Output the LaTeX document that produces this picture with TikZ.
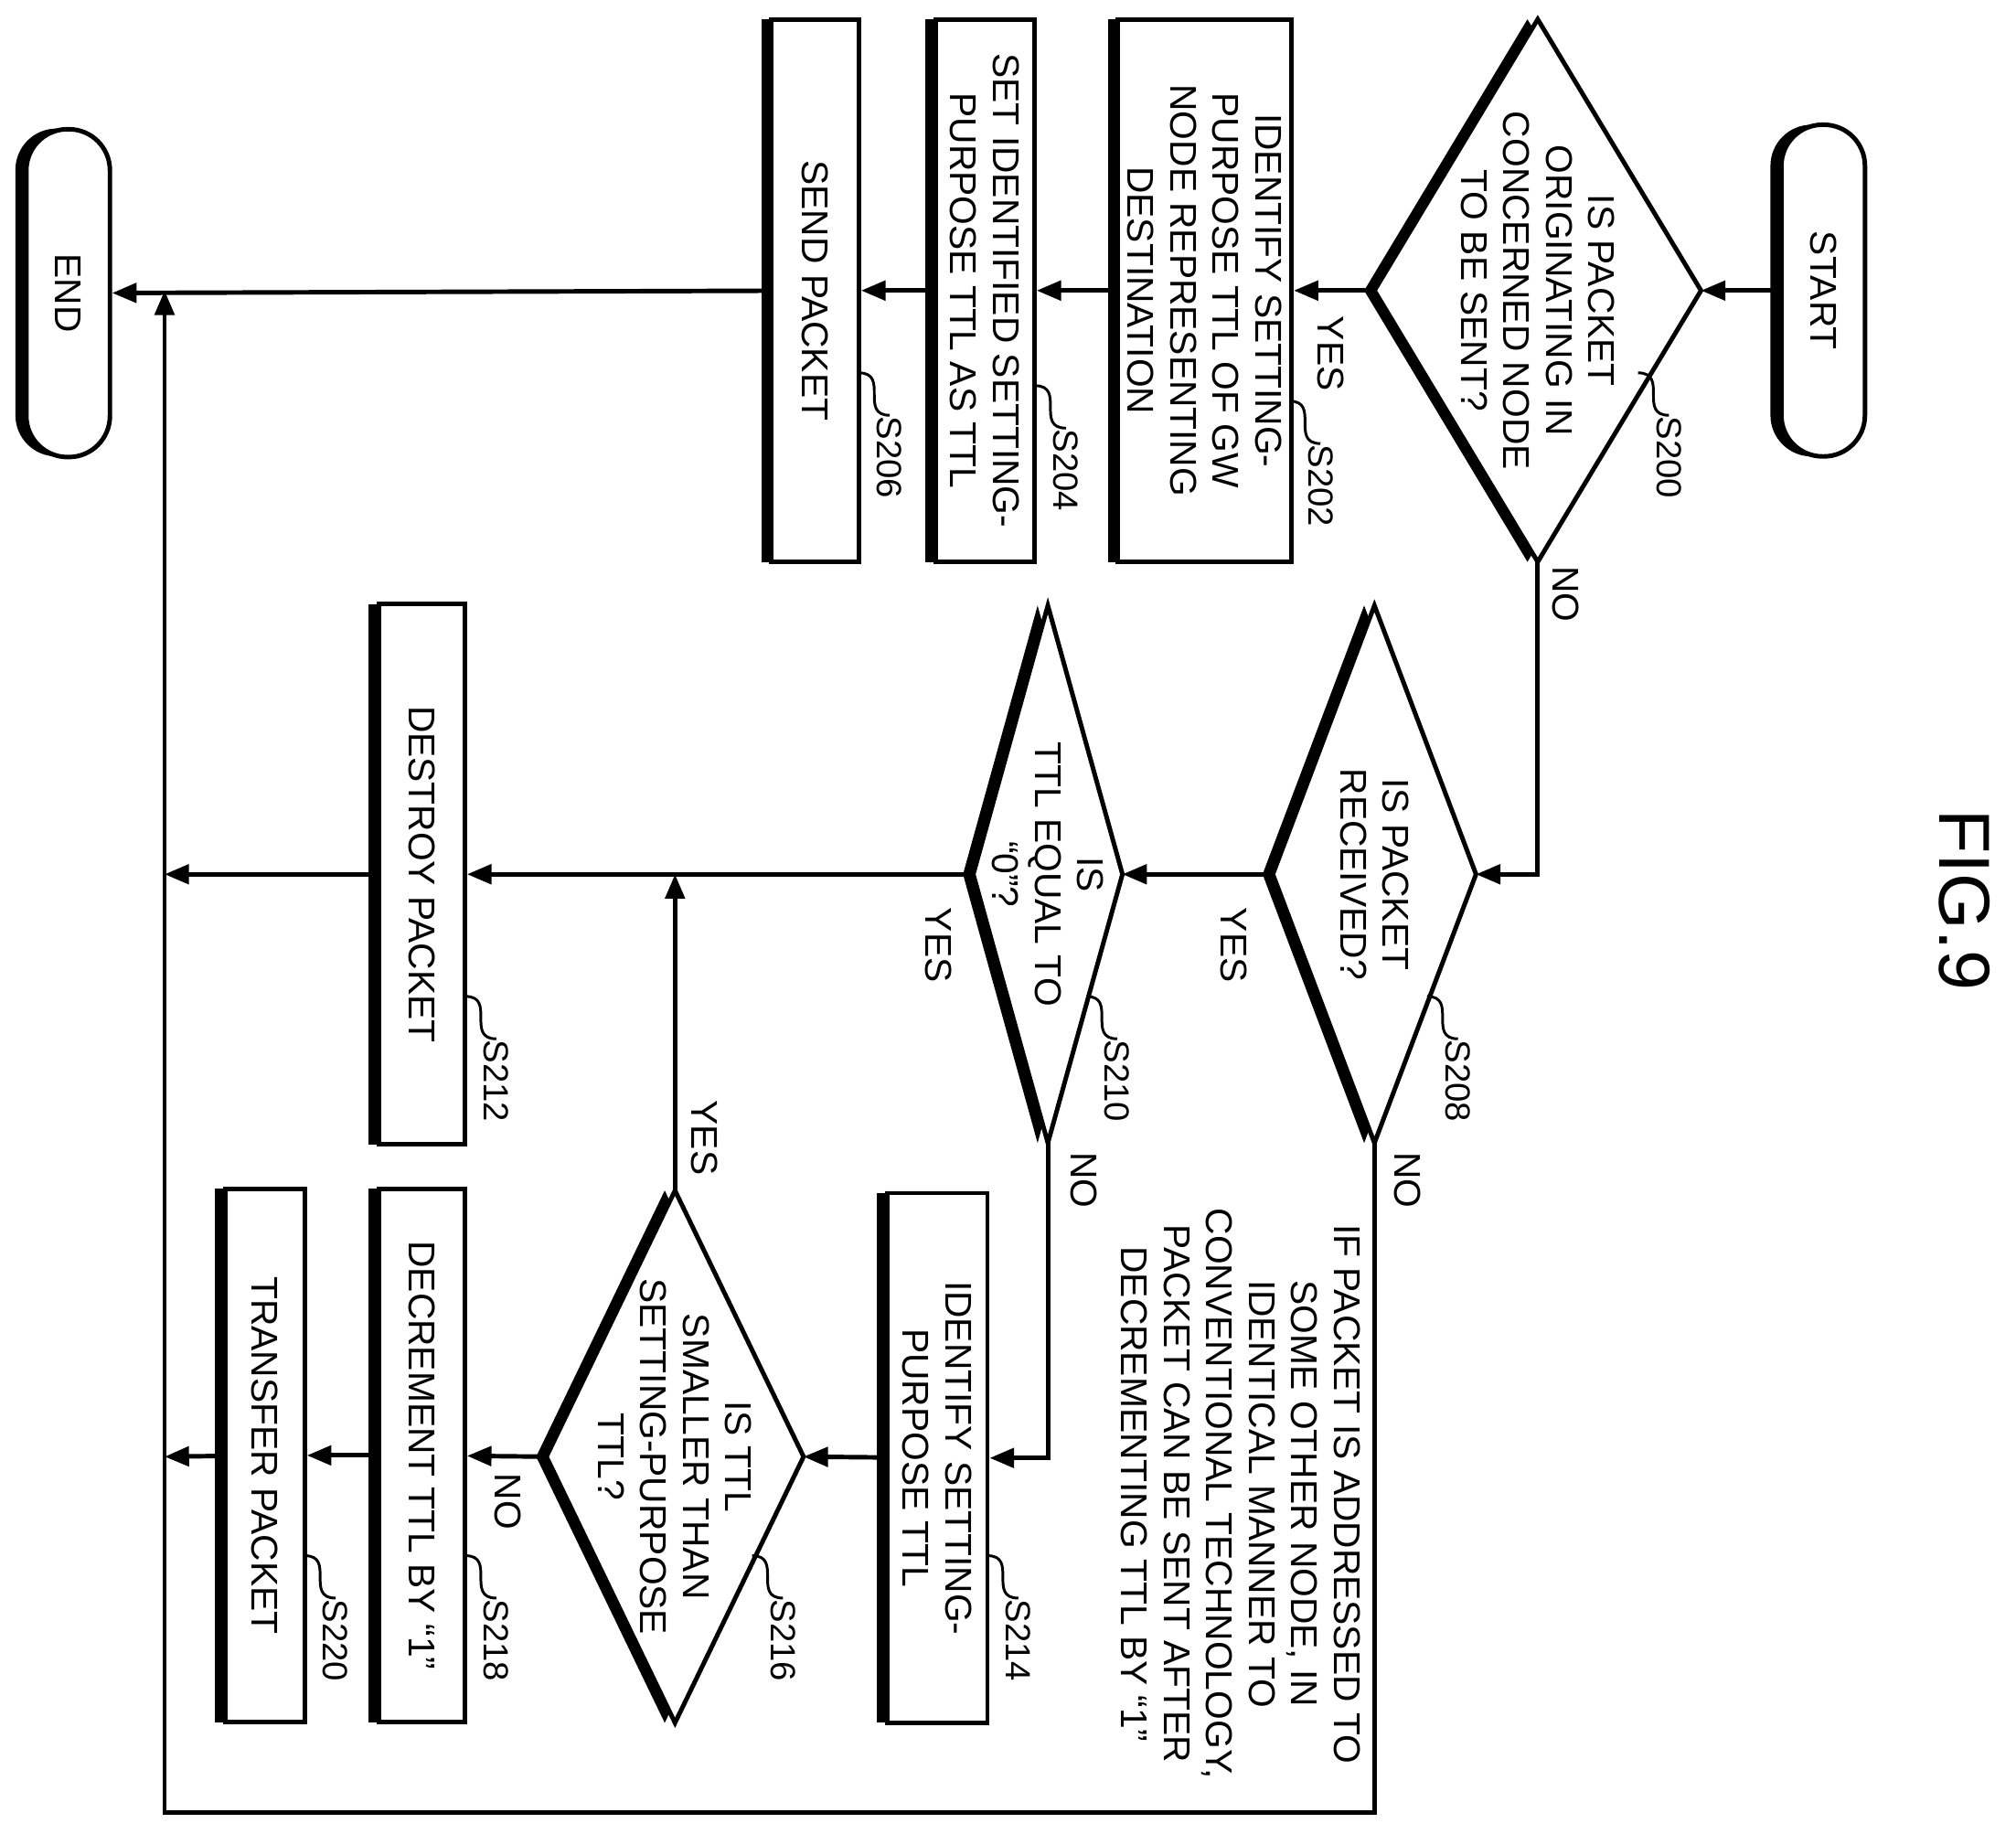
\documentclass[tikz,border=0pt]{standalone}
\usepackage{fontspec}
\setmainfont{Liberation Sans}
\usetikzlibrary{arrows.meta}
\begin{document}
\begin{tikzpicture}[x=0.02cm,y=-0.02cm,line width=2pt,
  rot/.style={rotate=-90,font=\fontsize{16.5}{18.8}\selectfont,align=center,inner sep=0pt},
  box/.style={rot,draw,fill=white,line width=2pt},
  arr/.style={-{Triangle[length=0.38cm,width=0.3cm]}},
  lbl/.style={rotate=-90,font=\fontsize{15.5}{18}\selectfont,inner sep=0pt,anchor=west}]
\useasboundingbox (0,0) rectangle (1568,1426);
\newcommand\bx[6]{\fill (#2-#4/2-8,#3-#5/2) rectangle (#2+#4/2-8,#3+#5/2);
  \node[box,minimum width=#5*0.02cm,minimum height=#4*0.02cm] (#1) at (#2,#3) {#6};}
\newcommand\dm[6]{\fill (#2-8,#3-#5) -- (#2+#4-8,#3) -- (#2-8,#3+#5) -- (#2-#4-8,#3) -- cycle;
  \draw[fill=white,line join=miter] (#2,#3-#5) -- (#2+#4,#3) -- (#2,#3+#5) -- (#2-#4,#3) -- cycle;
  \coordinate (#1-l) at (#2-#4,#3); \coordinate (#1-r) at (#2+#4,#3);
  \coordinate (#1-t) at (#2,#3-#5); \coordinate (#1-b) at (#2,#3+#5);
  \node[rot] (#1) at (#2,#3) {#6};}
\newcommand\sq[3]{\draw[line width=1.2pt] (#1,#2) .. controls +(24,0) and +(-24,0) .. +(24,33) node[lbl] {#3};}
% terminals
\fill[rounded corners=0.64cm] (1377,97) rectangle (1442,355);
\node[box,rounded corners=0.64cm,minimum width=258*0.02cm,minimum height=65*0.02cm] (start) at (1418,226) {START};
\fill[rounded corners=0.64cm] (12,100) rectangle (77,355);
\node[box,rounded corners=0.64cm,minimum width=255*0.02cm,minimum height=65*0.02cm] (end) at (53,228) {END};
% decisions
\dm{s200}{1196}{226}{127}{211}{IS PACKET\\ORIGINATING IN\\CONCERNED NODE\\TO BE SENT?}
\dm{s208}{1069}{680}{79}{209}{IS PACKET\\RECEIVED?}
\dm{s210}{815}{680}{58}{209}{IS\\TTL EQUAL TO\\``0''?}
\dm{s216}{525}{1133}{100}{207}{IS TTL\\SMALLER THAN\\SETTING-PURPOSE\\TTL?}
% boxes
\bx{s202}{937}{226}{135}{422}{IDENTIFY SETTING-\\PURPOSE TTL OF GW\\NODE REPRESENTING\\DESTINATION}
\bx{s204}{766}{226}{77}{422}{SET IDENTIFIED SETTING-\\PURPOSE TTL AS TTL}
\bx{s206}{634}{226}{68}{422}{SEND PACKET}
\bx{s212}{328}{680}{67}{420}{DESTROY PACKET}
\bx{s214}{729}{1134}{78}{412}{IDENTIFY SETTING-\\PURPOSE TTL}
\bx{s218}{328}{1132}{67}{415}{DECREMENT TTL BY ``1''}
\bx{s220}{206}{1132}{62}{415}{TRANSFER PACKET}
% junctions
\coordinate (j0) at (128,226);
\coordinate (j1) at (128,680);
\coordinate (j2) at (525,680);
\coordinate (j3) at (128,1133);
\coordinate (c1) at (128,1410);
% connectors
\draw[arr] (start) -- (s200-r);
\draw[arr] (s200-l) -- (s202);
\draw[arr] (s202) -- (s204);
\draw[arr] (s204) -- (s206);
\draw[arr] (s206) -- (end);
\draw[arr] (s200-b) |- (s208-r);
\draw[arr] (s208-l) -- (s210-r);
\draw[arr] (s210-l) -- (s212);
\draw[arr] (s212) -- (j1);
\draw[arr] (s210-b) |- (s214);
\draw[arr] (s214) -- (s216-r);
\draw[arr] (s216-t) -- (j2);
\draw[arr] (s216-l) -- (s218);
\draw[arr] (s218) -- (s220);
\draw[arr] (s220) -- (j3);
\draw[arr] (s208-b) |- (c1) -- (j0);
% branch labels
\node[rot] at (1035,275) {YES};
\node[rot] at (1218,462) {NO};
\node[rot] at (960,735) {YES};
\node[rot] at (1095,918) {NO};
\node[rot] at (730,735) {YES};
\node[rot] at (843,918) {NO};
\node[rot] at (548,885) {YES};
\node[rot] at (395,1168) {NO};
% note
\node[rot] (note) at (965,1162) {IF PACKET IS ADDRESSED TO\\SOME OTHER NODE, IN\\IDENTICAL MANNER TO\\CONVENTIONAL TECHNOLOGY,\\PACKET CAN BE SENT AFTER\\DECREMENTING TTL BY ``1''};
% step labels
\sq{1274}{290}{S200}
\sq{1003}{312}{S202}
\sq{805}{300}{S204}
\sq{668}{290}{S206}
\sq{1110}{775}{S208}
\sq{845}{775}{S210}
\sq{362}{775}{S212}
\sq{768}{1210}{S214}
\sq{585}{1210}{S216}
\sq{362}{1210}{S218}
\sq{237}{1210}{S220}
\node[rotate=-90,font=\fontsize{32}{36}\selectfont,inner sep=0pt] (fig) at (1528,700) {FIG.9};
\end{tikzpicture}
\end{document}
